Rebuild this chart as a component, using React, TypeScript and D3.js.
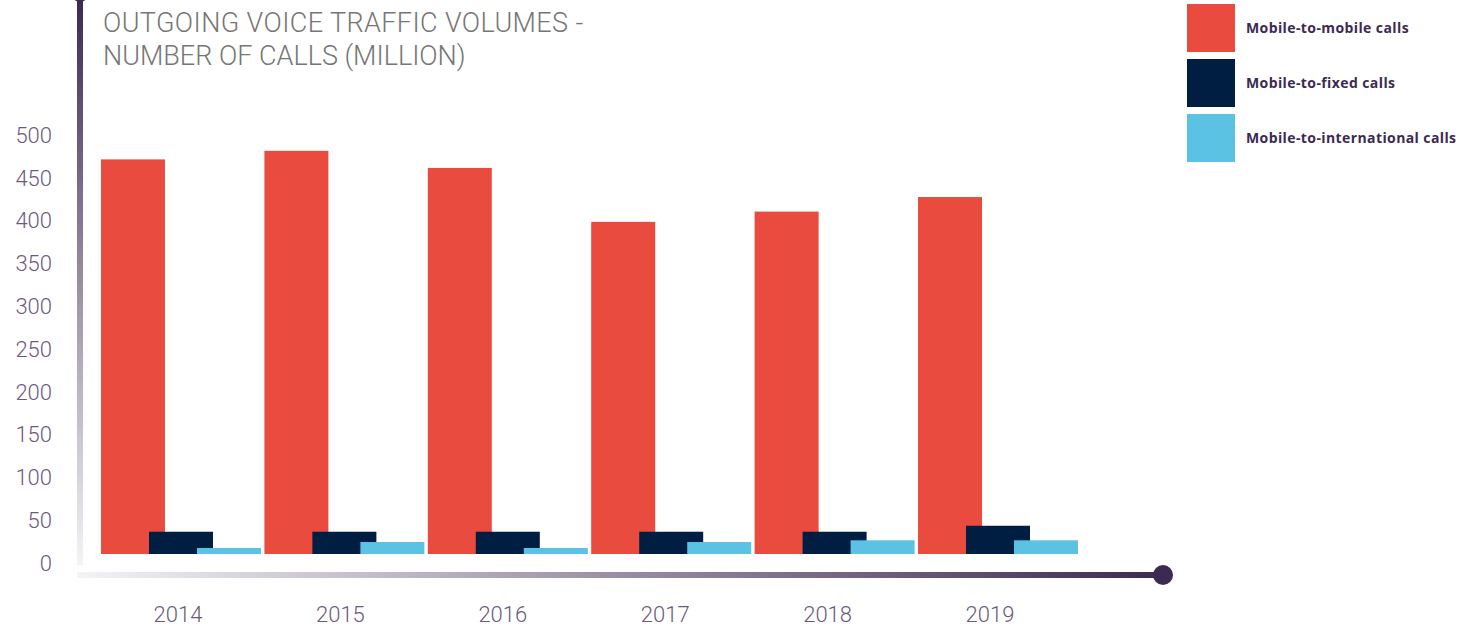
import React from "react";
import * as d3 from "d3";

const years = ["2014", "2015", "2016", "2017", "2018", "2019"];
const mobileToMobile = [461, 471, 451, 388, 400, 417];
const mobileToFixed = [26, 26, 26, 26, 26, 33];
const mobileToInternational = [7, 14, 7, 14, 16, 16];
const yTicks = [0, 50, 100, 150, 200, 250, 300, 350, 400, 450, 500];
const seriesNames = ["Mobile-to-mobile calls", "Mobile-to-fixed calls", "Mobile-to-international calls"];
const seriesColors = ["#e94b3f", "#001e41", "#5bc2e3"];

const App = () => {
  const w = 1468;
  const h = 630;
  const series = [mobileToMobile, mobileToFixed, mobileToInternational];

  // scales
  const x = d3.scaleBand().domain(years).range([101, 1078]).paddingInner(0.021);
  const xLabel = d3.scalePoint().domain(years).range([178, 990]);
  const y = d3.scaleLinear().domain([0, 500]).range([554, 126]);
  const bw = x.bandwidth() * 0.4;
  const step = x.bandwidth() * 0.3;

  return (
    <svg width={w} height={h} style={{ position: "absolute", left: 0, top: 0, display: "block" }}>
      <defs>
        <linearGradient id="vgrad" x1="0" y1="0" x2="0" y2="1">
          <stop offset="0%" stopColor="#3d2a52" />
          <stop offset="100%" stopColor="#f4f3f6" />
        </linearGradient>
        <linearGradient id="hgrad" x1="0" y1="0" x2="1" y2="0">
          <stop offset="0%" stopColor="#f4f3f6" />
          <stop offset="100%" stopColor="#3d2a52" />
        </linearGradient>
      </defs>

      {/* axes lines */}
      <rect x={77} y={0} width={6} height={565} fill="url(#vgrad)" />
      <circle cx={80} cy={-6} r={8} fill="#3d2a52" />
      <rect x={77} y={572} width={1086} height={6} fill="url(#hgrad)" />
      <circle cx={1163} cy={575} r={10} fill="#3d2a52" />

      {/* title */}
      <g fontFamily="Roboto" fontWeight={300} fontSize={27} fill="#767676">
        <text x={103} y={32} letterSpacing={0.4}>OUTGOING VOICE TRAFFIC VOLUMES -</text>
        <text x={103} y={65}>NUMBER OF CALLS (MILLION)</text>
      </g>

      {/* y labels */}
      <g fontFamily="Roboto" fontWeight={300} fontSize={22} fill="#6b5a7e" textAnchor="end">
        {yTicks.map((t) => (
          <text key={t} x={52} y={y(t) + 9} dy="0.35em">{t}</text>
        ))}
      </g>

      {/* bars */}
      {years.map((yr, i) => (
        <g key={yr}>
          {series.map((s, j) => (
            <rect
              key={j}
              x={(x(yr) as number) + j * step}
              y={y(s[i])}
              width={bw}
              height={y(0) - y(s[i])}
              fill={seriesColors[j]}
            />
          ))}
        </g>
      ))}

      {/* x labels */}
      <g fontFamily="Roboto" fontWeight={300} fontSize={22} fill="#6b5a7e" textAnchor="middle">
        {years.map((yr) => (
          <text key={yr} x={xLabel(yr)} y={614} dy="0.35em">{yr}</text>
        ))}
      </g>

      {/* legend */}
      {seriesNames.map((n, j) => (
        <g key={n} transform={`translate(1187, ${4 + j * 55})`}>
          <rect width={48} height={48} fill={seriesColors[j]} />
          <text x={59} y={24} dy="0.35em" fontFamily="Open Sans" fontWeight={700} fontSize={14} letterSpacing={0.4} fill="#3d2a52">{n}</text>
        </g>
      ))}
    </svg>
  );
};

export default App;
